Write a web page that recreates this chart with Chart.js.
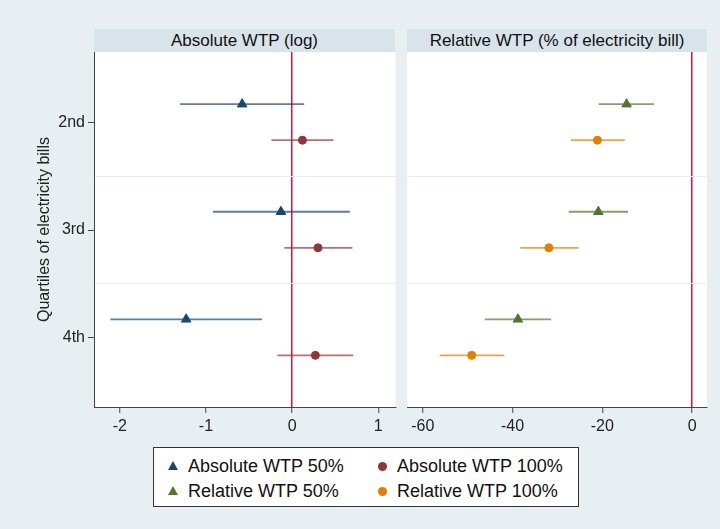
<!DOCTYPE html>
<html>
<head>
<meta charset="utf-8">
<script src="https://cdn.jsdelivr.net/npm/chart.js@4.4.0/dist/chart.umd.min.js"></script>
<style>
  body { margin: 0; background: #e8eff2; font-family: "Liberation Sans", Arial, sans-serif; }
  #wrap { position: relative; width: 720px; height: 529px; overflow: hidden; }
  canvas { position: absolute; top: 0; }
  .strip { position: absolute; top: 29px; height: 23px; background: #d9e4ea; color: #111; font-size: 17px; line-height: 24px; text-align: center; }
  #legend { position: absolute; left: 153px; top: 447px; width: 424px; height: 58px; background: #fff; border: 1px solid #333; }
  .item { position: absolute; font-size: 18px; line-height: 20px; color: #111; white-space: nowrap; padding-left: 21px; }
  .mk { position: absolute; top: 5px; }
</style>
</head>
<body>
<div id="wrap">
  <canvas id="absChart" width="402" height="440" style="left:0"></canvas>
  <canvas id="relChart" width="320" height="440" style="left:400px"></canvas>
  <div class="strip" id="absTitle" style="left:94px; width:301px"></div>
  <div class="strip" id="relTitle" style="left:407px; width:300px"></div>
  <div id="legend"></div>
</div>
<script>
// Daten
const categories = ['2nd', '3rd', '4th'];
const absTicks = [-2, -1, 0, 1];
const relTicks = [-60, -40, -20, 0];

const abs50 = [-0.58, -0.13, -1.23];
const abs50Lo = [-1.30, -0.92, -2.11];
const abs50Hi = [0.14, 0.67, -0.35];
const abs100 = [0.12, 0.30, 0.27];
const abs100Lo = [-0.24, -0.09, -0.17];
const abs100Hi = [0.48, 0.70, 0.71];

const rel50 = [-14.6, -20.9, -38.8];
const rel50Lo = [-20.8, -27.5, -46.2];
const rel50Hi = [-8.5, -14.3, -31.4];
const rel100 = [-21.1, -31.9, -49.1];
const rel100Lo = [-27.0, -38.3, -56.2];
const rel100Hi = [-15.0, -25.3, -41.8];

const absTitle = 'Absolute WTP (log)';
const relTitle = 'Relative WTP (% of electricity bill)';
const yTitle = 'Quartiles of electricity bills';

const series = {
  abs: [
    { label: 'Absolute WTP 50%', values: abs50, lo: abs50Lo, hi: abs50Hi, color: '#1a476f', line: 'rgba(26,71,111,0.7)', style: 'triangle', shift: -0.17 },
    { label: 'Absolute WTP 100%', values: abs100, lo: abs100Lo, hi: abs100Hi, color: '#90353b', line: 'rgba(144,53,59,0.7)', style: 'circle', shift: 0.165 }
  ],
  rel: [
    { label: 'Relative WTP 50%', values: rel50, lo: rel50Lo, hi: rel50Hi, color: '#55752f', line: 'rgba(85,117,47,0.7)', style: 'triangle', shift: -0.17 },
    { label: 'Relative WTP 100%', values: rel100, lo: rel100Lo, hi: rel100Hi, color: '#e37e00', line: 'rgba(227,126,0,0.7)', style: 'circle', shift: 0.165 }
  ]
};

document.getElementById('absTitle').textContent = absTitle;
document.getElementById('relTitle').textContent = relTitle;

// weisser Plotbereich
const panelBg = {
  id: 'panelBg',
  beforeDraw(chart) {
    const a = chart.chartArea;
    chart.ctx.save();
    chart.ctx.fillStyle = '#fff';
    chart.ctx.fillRect(a.left, a.top, a.right - a.left, a.bottom - a.top);
    chart.ctx.restore();
  }
};

// Konfidenzintervalle
const ciBars = {
  id: 'ciBars',
  beforeDatasetsDraw(chart) {
    const { ctx, scales: { x, y } } = chart;
    ctx.save();
    chart.data.datasets.forEach(ds => {
      ctx.strokeStyle = ds.ciColor;
      ctx.lineWidth = 1.8;
      ds.lo.forEach((l, i) => {
        const py = y.getPixelForValue(ds.data[i].y);
        ctx.beginPath();
        ctx.moveTo(x.getPixelForValue(l), py);
        ctx.lineTo(x.getPixelForValue(ds.hi[i]), py);
        ctx.stroke();
      });
    });
    ctx.restore();
  }
};

const font = { family: '"Liberation Sans", Arial, sans-serif', size: 16 };

function makeChart(id, list, xTicks, xMin, xMax, leftAxis) {
  const datasets = list.map(s => ({
    label: s.label,
    data: categories.map((c, i) => ({ x: s.values[i], y: i + s.shift })),
    lo: s.lo,
    hi: s.hi,
    ciColor: s.line,
    pointStyle: s.style,
    pointRadius: s.style === 'triangle' ? 5.5 : 4,
    backgroundColor: s.color,
    borderColor: s.color,
    borderWidth: 1
  }));

  return new Chart(document.getElementById(id), {
    type: 'scatter',
    data: { datasets },
    options: {
      responsive: false,
      animation: false,
      layout: { padding: leftAxis ? { top: 52, right: 5, left: 0, bottom: 0 } : { top: 52, right: 13, left: 7, bottom: 0 } },
      plugins: { legend: { display: false }, tooltip: { enabled: false } },
      scales: {
        x: {
          type: 'linear',
          min: xMin,
          max: xMax,
          afterBuildTicks: scale => { scale.ticks = xTicks.map(v => ({ value: v })); },
          afterFit: scale => { scale.height = 33; },
          ticks: { autoSkip: false, maxRotation: 0, padding: 4, color: '#222', font },
          grid: {
            color: ctx => ctx.tick && ctx.tick.value === 0 ? '#d4153f' : 'rgba(0,0,0,0)',
            lineWidth: 1.5,
            tickColor: '#444',
            tickLength: 6,
            tickWidth: 1
          },
          border: { display: true, color: '#444', width: 1 }
        },
        y: {
          type: 'linear',
          reverse: true,
          min: -0.655,
          max: 2.645,
          afterBuildTicks: scale => { scale.ticks = [0, 0.5, 1, 1.5, 2].map(v => ({ value: v })); },
          afterFit: scale => { scale.width = leftAxis ? 94 : 0; },
          title: leftAxis ? { display: true, text: yTitle, color: '#222', font, padding: { top: 35, bottom: 0 } } : { display: false },
          ticks: {
            display: leftAxis,
            autoSkip: false,
            padding: 3,
            color: '#222',
            font,
            callback: v => Number.isInteger(v) ? categories[v] : ''
          },
          grid: {
            color: ctx => ctx.tick && !Number.isInteger(ctx.tick.value) ? '#e7eef1' : 'rgba(0,0,0,0)',
            lineWidth: 1,
            drawTicks: leftAxis,
            tickColor: ctx => ctx.tick && Number.isInteger(ctx.tick.value) ? '#444' : 'rgba(0,0,0,0)',
            tickLength: 6
          },
          border: { display: leftAxis, color: '#444', width: 1 }
        }
      }
    },
    plugins: [panelBg, ciBars]
  });
}

makeChart('absChart', series.abs, absTicks, -2.3, 1.2, true);
makeChart('relChart', series.rel, relTicks, -63.5, 3.3, false);

// Legende
const legend = document.getElementById('legend');
[series.abs[0], series.abs[1], series.rel[0], series.rel[1]].forEach((s, k) => {
  const col = k % 2;
  const row = Math.floor(k / 2);
  const item = document.createElement('div');
  item.className = 'item';
  item.style.left = (13 + col * 209) + 'px';
  item.style.top = (8 + row * 25) + 'px';
  const mk = document.createElement('span');
  mk.className = 'mk';
  if (s.style === 'triangle') {
    mk.style.cssText = `left:1px; top:5px; width:0; height:0; border-left:5px solid transparent; border-right:5px solid transparent; border-bottom:9px solid ${s.color};`;
  } else {
    mk.style.cssText = `left:1.5px; top:5.5px; width:9px; height:9px; border-radius:50%; background:${s.color};`;
  }
  item.appendChild(mk);
  item.appendChild(document.createTextNode(s.label));
  legend.appendChild(item);
});
</script>
</body>
</html>
